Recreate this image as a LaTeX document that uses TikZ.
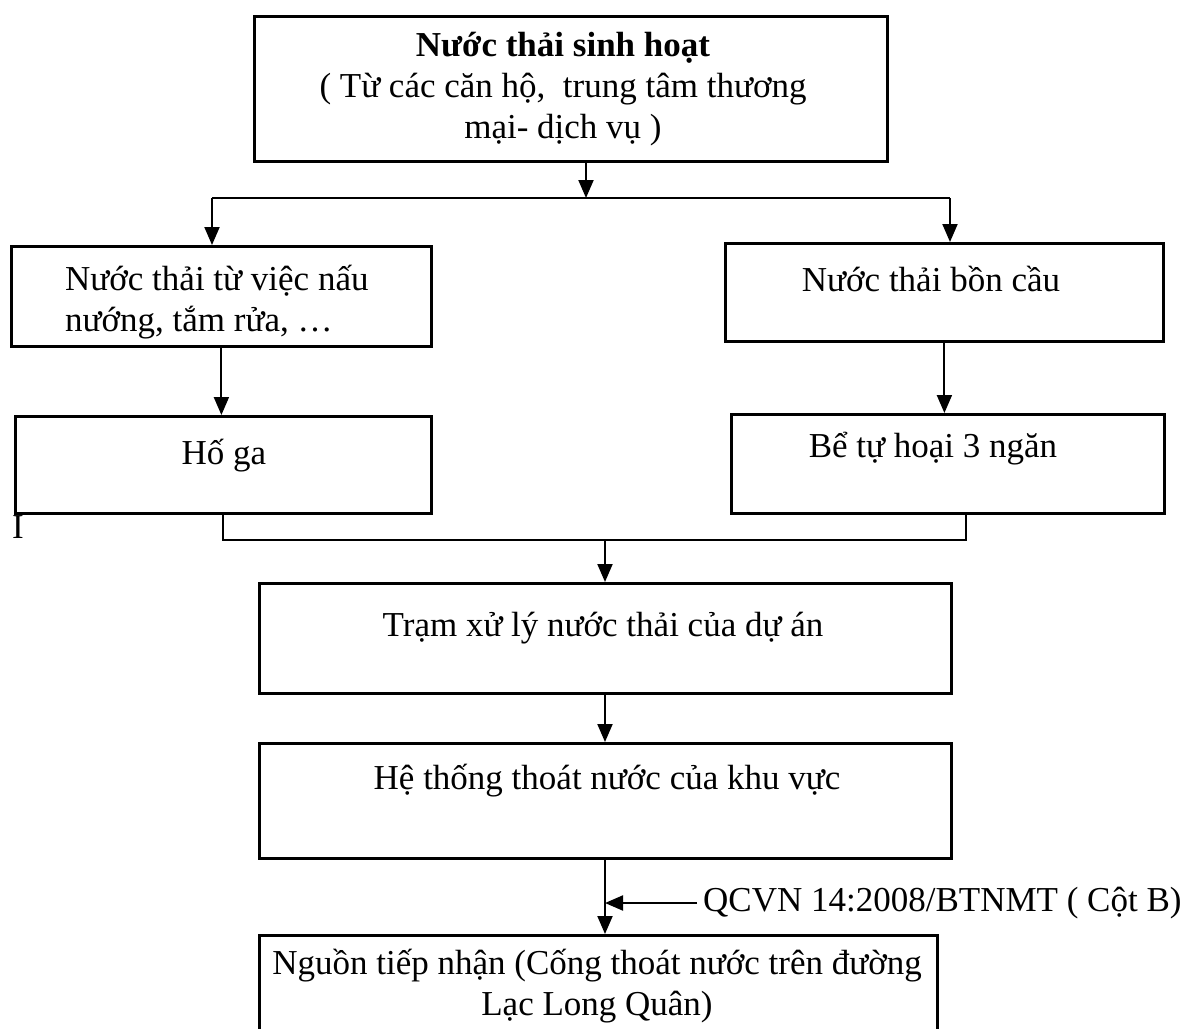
\documentclass[tikz,border=0pt]{standalone}
\usepackage{fontspec}
\setmainfont{Liberation Serif}
\usetikzlibrary{arrows.meta}
\tikzset{
	box/.style={draw,line width=2.8pt,anchor=north west,inner sep=0pt},
	txt/.style={font=\fontsize{35}{41}\selectfont,align=center,inner sep=0pt},
	flow/.style={line width=2pt,-{Triangle[length=18pt,width=15pt]}},
	wire/.style={line width=2pt}
}
\begin{document}
\begin{tikzpicture}[x=1pt,y=-1pt]
		\useasboundingbox (0,0) rectangle (1183,1028);
		\clip (0,0) rectangle (1183,1028);
		% boxes
		\node [box,minimum width=633pt,minimum height=145pt] (top) at (253,15) {};
		\node [box,minimum width=420pt,minimum height=100pt] (nauuong) at (10,245) {};
		\node [box,minimum width=438pt,minimum height=98pt] (boncau) at (724,242) {};
		\node [box,minimum width=416pt,minimum height=97pt] (hoga) at (14,415) {};
		\node [box,minimum width=433pt,minimum height=99pt] (betuhoai) at (730,413) {};
		\node [box,minimum width=692pt,minimum height=110pt] (tram) at (258,582) {};
		\node [box,minimum width=692pt,minimum height=115pt] (hethong) at (258,742) {};
		\node [box,minimum width=678pt,minimum height=130pt] (nguon) at (258,934) {};
		% texts
		\node [txt] (toptxt) at (563,89) {\textbf{Nước thải sinh hoạt}\\( Từ các căn hộ,~ trung tâm thương\\mại- dịch vụ )};
		\node [txt,align=left,anchor=west] (nauuongtxt) at (65,302) {Nước thải từ việc nấu\\nướng, tắm rửa, …};
		\node [txt] (boncautxt) at (931,279) {Nước thải bồn cầu};
		\node [txt] (hogatxt) at (224,456) {Hố ga};
		\node [txt] (betuhoaitxt) at (933,449) {Bể tự hoại 3 ngăn};
		\node [txt] (tramtxt) at (603,628) {Trạm xử lý nước thải của dự án};
		\node [txt] (hethongtxt) at (607,781) {Hệ thống thoát nước của khu vực};
		\node [txt] (nguontxt) at (597,986) {Nguồn tiếp nhận (Cống thoát nước trên đường\\Lạc Long Quân)};
		\node [txt,anchor=west] (qcvn) at (703,903) {QCVN 14:2008/BTNMT ( Cột B)};
		\node [txt] (stray) at (18,527) {I};
		% connectors
		\coordinate (split) at (586,198);
		\coordinate (splitl) at (212,198);
		\coordinate (splitr) at (950,198);
		\coordinate (merge) at (605,540);
		\draw [flow] (top.south -| split) to (split);
		\draw [wire] (splitl) to (splitr);
		\draw [flow] (splitl) to (splitl |- nauuong.north);
		\draw [flow] (splitr) to (splitr |- boncau.north);
		\draw [flow] (nauuong.south) to (nauuong.south |- hoga.north);
		\draw [flow] (boncau.south) to (boncau.south |- betuhoai.north);
		\draw [wire] (hoga.south) |- (merge) -| ([xshift=18]betuhoai.south);
		\draw [flow] (merge) to (merge |- tram.north);
		\draw [flow] (merge |- tram.south) to (merge |- hethong.north);
		\draw [flow] (merge |- hethong.south) to (merge |- nguon.north);
		\draw [flow] ([xshift=-6]qcvn.west) to (qcvn.west -| merge);
	\end{tikzpicture}
\end{document}
